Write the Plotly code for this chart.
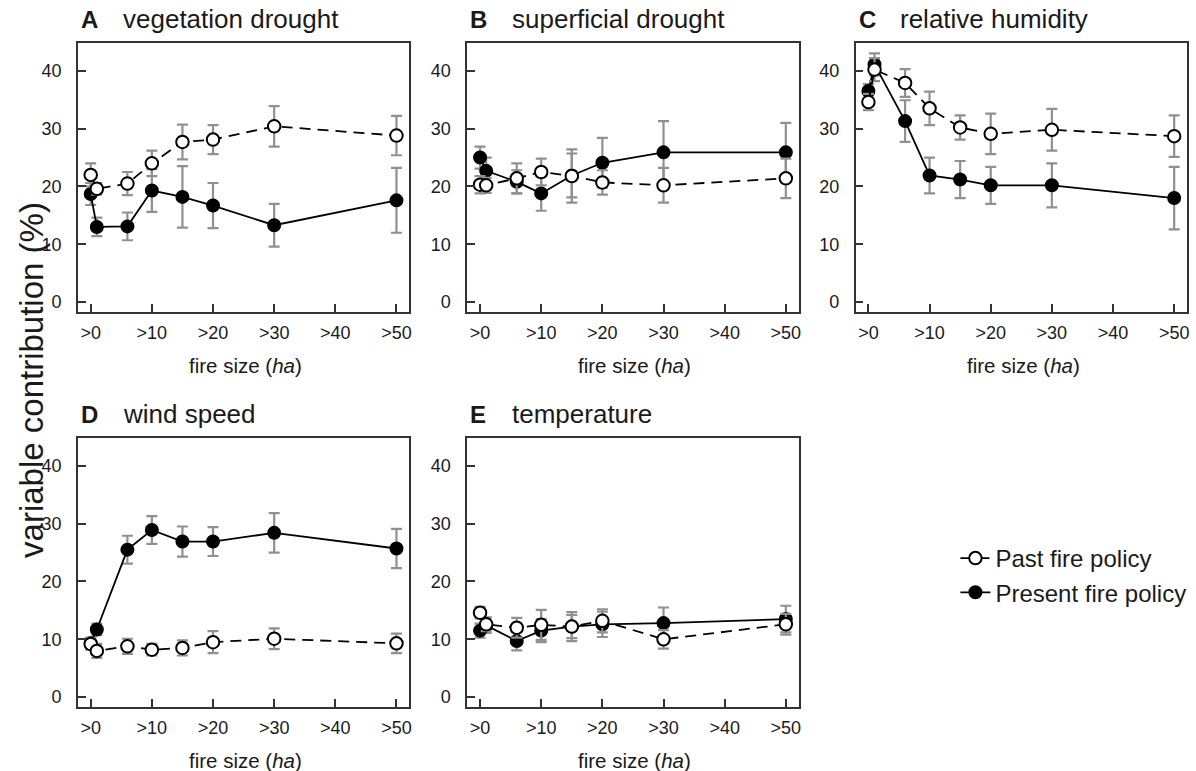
import plotly.graph_objects as go

# ---------------- data ----------------
x_pos = [0, 1, 6, 10, 15, 20, 30, 50]
x_tickvals = [0, 10, 20, 30, 40, 50]
x_ticktext = [">0", ">10", ">20", ">30", ">40", ">50"]
y_tickvals = [0, 10, 20, 30, 40]

panel_letters = ["A", "B", "C", "D", "E"]
panel_names = ["vegetation drought", "superficial drought", "relative humidity",
               "wind speed", "temperature"]

past_A = [22.0, 19.6, 20.5, 24.0, 27.7, 28.1, 30.4, 28.8]
past_A_err = [2.0, 1.0, 2.0, 2.2, 3.0, 2.5, 3.5, 3.4]
present_A = [18.7, 13.0, 13.1, 19.3, 18.2, 16.7, 13.3, 17.6]
present_A_err = [1.9, 1.6, 2.4, 3.7, 5.3, 3.9, 3.7, 5.6]

past_B = [20.3, 20.2, 21.4, 22.5, 21.8, 20.7, 20.2, 21.4]
past_B_err = [1.5, 1.3, 2.6, 2.3, 4.6, 2.1, 3.0, 3.4]
present_B = [25.0, 22.7, 20.8, 18.8, 21.9, 24.1, 25.9, 25.9]
present_B_err = [1.9, 2.3, 2.0, 3.0, 3.8, 4.3, 5.4, 5.1]

past_C = [34.6, 40.2, 37.9, 33.5, 30.2, 29.1, 29.8, 28.7]
past_C_err = [1.4, 2.0, 2.4, 2.9, 2.1, 3.5, 3.6, 3.6]
present_C = [36.5, 41.1, 31.3, 21.9, 21.2, 20.2, 20.2, 18.0]
present_C_err = [1.2, 1.9, 3.6, 3.1, 3.2, 3.2, 3.8, 5.4]

past_D = [9.2, 8.0, 8.8, 8.2, 8.5, 9.5, 10.1, 9.3]
past_D_err = [1.0, 1.2, 1.3, 1.0, 1.3, 1.9, 1.8, 1.7]
present_D = [9.3, 11.7, 25.5, 28.9, 26.9, 26.9, 28.4, 25.7]
present_D_err = [1.0, 1.0, 2.4, 2.4, 2.6, 2.5, 3.4, 3.4]

past_E = [14.6, 12.6, 12.0, 12.5, 12.2, 13.2, 10.0, 12.6]
past_E_err = [1.0, 1.2, 1.7, 2.6, 2.5, 2.0, 1.6, 1.8]
present_E = [11.5, 12.4, 9.7, 11.5, 12.2, 12.6, 12.8, 13.5]
present_E_err = [1.2, 1.3, 1.6, 2.0, 2.0, 2.2, 2.7, 2.3]

past_series = [past_A, past_B, past_C, past_D, past_E]
past_errs = [past_A_err, past_B_err, past_C_err, past_D_err, past_E_err]
present_series = [present_A, present_B, present_C, present_D, present_E]
present_errs = [present_A_err, present_B_err, present_C_err, present_D_err, present_E_err]

legend_names = ["Past fire policy", "Present fire policy"]

# ---------------- layout geometry (pixels) ----------------
W, H = 1196, 771
col_x = [(78, 410), (468, 800), (857, 1189)]
row_y = [(43, 312), (438, 707)]
panel_cells = [(0, 0), (0, 1), (0, 2), (1, 0), (1, 1)]

FONT = "Liberation Sans, Arial, Helvetica, sans-serif"
INK = "#1a1a1a"
AXC = "#333333"
ERRC = "#909090"

fig = go.Figure()
annotations = []

for i in range(5):
    r, c = panel_cells[i]
    suffix = "" if i == 0 else str(i + 1)
    xa = "x" + suffix
    ya = "y" + suffix
    x0, x1 = col_x[c]
    yt, yb = row_y[r]

    # Present (filled, solid) first, Past (open, dashed) on top
    fig.add_trace(go.Scatter(
        x=x_pos, y=present_series[i], xaxis=xa, yaxis=ya,
        mode="lines+markers", name=legend_names[1], legendrank=2,
        showlegend=(i == 0),
        line=dict(color="black", width=1.8),
        marker=dict(symbol="circle", size=12.5, color="black",
                    line=dict(color="black", width=1.5)),
        error_y=dict(type="data", array=present_errs[i], visible=True,
                     color=ERRC, thickness=2.2, width=5.5),
    ))
    fig.add_trace(go.Scatter(
        x=x_pos, y=past_series[i], xaxis=xa, yaxis=ya,
        mode="lines+markers", name=legend_names[0], legendrank=1,
        showlegend=(i == 0),
        line=dict(color="black", width=1.8, dash="11px,7px"),
        marker=dict(symbol="circle", size=12.5, color="white",
                    line=dict(color="black", width=2)),
        error_y=dict(type="data", array=past_errs[i], visible=True,
                     color=ERRC, thickness=2.2, width=5.5),
    ))

    common = dict(showline=True, mirror=True, linecolor=AXC, linewidth=1.5,
                  showgrid=False, zeroline=False, ticks="inside", ticklen=8,
                  tickwidth=1.5, tickcolor=AXC,
                  tickfont=dict(family=FONT, size=18, color=INK))
    fig.update_layout(**{
        ("xaxis" + suffix): dict(
            domain=[x0 / W, x1 / W], anchor=ya, range=[-2.1, 52.1],
            tickvals=x_tickvals, ticktext=x_ticktext, ticklabelstandoff=4,
            **common),
        ("yaxis" + suffix): dict(
            domain=[1 - yb / H, 1 - yt / H], anchor=xa, range=[-1.7, 44.8],
            tickvals=y_tickvals, ticklabelstandoff=11, **common),
    })

    title_y = 1 - (19 if r == 0 else 414) / H
    annotations.append(dict(
        text="<b>" + panel_letters[i] + "</b>", xref="paper", yref="paper",
        x=(x0 + 1) / W, y=title_y, xanchor="left", yanchor="middle",
        showarrow=False, font=dict(family=FONT, size=24, color=INK)))
    annotations.append(dict(
        text=panel_names[i], xref="paper", yref="paper",
        x=(x0 + 43) / W, y=title_y, xanchor="left", yanchor="middle",
        showarrow=False, font=dict(family=FONT, size=26, color=INK)))
    annotations.append(dict(
        text="fire size (<i>ha</i>)", xref="paper", yref="paper",
        x=((x0 + x1) / 2 + 2) / W, y=1 - (365 if r == 0 else 760) / H,
        xanchor="center", yanchor="middle", showarrow=False,
        font=dict(family=FONT, size=20.5, color=INK)))

annotations.append(dict(
    text="variable contribution (%)", xref="paper", yref="paper",
    x=31 / W, y=1 - 380 / H, xanchor="center", yanchor="middle",
    textangle=-90, showarrow=False,
    font=dict(family=FONT, size=33, color=INK)))

fig.update_layout(
    width=W, height=H, margin=dict(l=0, r=0, t=0, b=0),
    paper_bgcolor="white", plot_bgcolor="white",
    font=dict(family=FONT, color=INK),
    annotations=annotations,
    showlegend=True,
    legend=dict(x=957 / W, y=1 - 536 / H, xanchor="left", yanchor="top",
                font=dict(family=FONT, size=24, color=INK),
                bgcolor="rgba(0,0,0,0)", tracegroupgap=0, itemwidth=30),
)

fig.write_html("out.html", config={"displayModeBar": False},
               post_script="document.body.style.margin='0';")
